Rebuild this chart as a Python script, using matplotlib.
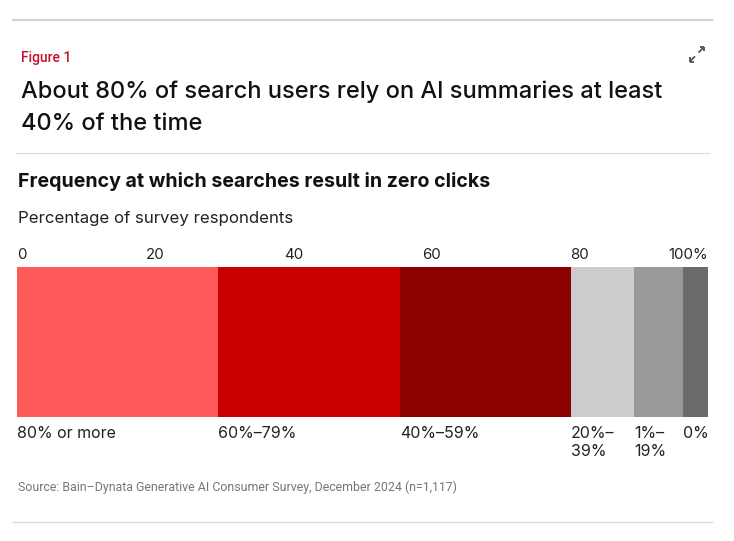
import matplotlib
matplotlib.use("Agg")
import matplotlib.pyplot as plt
from matplotlib.lines import Line2D
import matplotlib.transforms as mtransforms
import numpy as np

# ---- data ----
categories = ["80% or more", "60%–79%", "40%–59%", "20%–\n39%", "1%–\n19%", "0%"]
values = [29.1, 26.3, 24.7, 9.2, 7.0, 3.7]
colors = ["#FF5A5A", "#C80000", "#8C0000", "#CCCCCC", "#999999", "#6B6B6B"]
tick_values = [0, 20, 40, 60, 80, 100]
tick_labels = ["0", "20", "40", "60", "80", "100%"]

figure_label = "Figure 1"
title_lines = ["About 80% of search users rely on AI summaries at least",
               "40% of the time"]
subtitle = "Frequency at which searches result in zero clicks"
unit_label = "Percentage of survey respondents"
source = "Source: Bain–Dynata Generative AI Consumer Survey, December 2024 (n=1,117)"

FONT = "Inter"
plt.rcParams["font.family"] = [FONT, "DejaVu Sans"]
NARROW = ["Roboto", "DejaVu Sans"]

W, H = 734, 541
fig = plt.figure(figsize=(W / 100, H / 100), dpi=100)
fig.patch.set_facecolor("white")

def fx(px):
    return px / W

def fy(py):
    return 1 - py / H

# ---- axes = the bar ----
x0, x1 = 17, 708.3
y_top, y_bot = 266.5, 416.7
ax = fig.add_axes([fx(x0), fy(y_bot), fx(x1) - fx(x0), fy(y_top) - fy(y_bot)])
left = np.concatenate([[0], np.cumsum(values)[:-1]])
ax.barh([0], values, left=left, color=colors, height=1.0, edgecolor="none")
ax.set_xlim(0, 100)
ax.set_ylim(-0.5, 0.5)
for s in ax.spines.values():
    s.set_visible(False)
ax.set_yticks([])
ax.xaxis.tick_top()
ax.set_xticks(tick_values, tick_labels)
ax.tick_params(axis="x", length=0, pad=3.2, labelsize=10.8, labelcolor="#222222")
tl = ax.get_xticklabels()
tl[0].set_ha("left")
tl[4].set_ha("left")
tl[5].set_ha("right")

# category labels below each segment
offs = mtransforms.offset_copy(ax.transData, fig=fig, x=0, y=-9.4, units="dots")
for start, lab in zip(left, categories):
    ax.text(start, -0.5, lab, transform=offs, ha="left", va="top",
            fontsize=11.5, color="#222222", linespacing=1.2)

# ---- texts ----
fig.text(fx(21), fy(62.3), figure_label, fontsize=10, color="#C8102E",
         fontweight="medium", va="baseline", ha="left", family=NARROW)
fig.text(fx(21), fy(97.7), title_lines[0], fontsize=17.0, color="#111111",
         fontweight="medium", va="baseline", ha="left")
fig.text(fx(21), fy(130), title_lines[1], fontsize=17.0, color="#111111",
         fontweight="medium", va="baseline", ha="left")
fig.text(fx(17.5), fy(186.7), subtitle, fontsize=14.1, color="#111111",
         fontweight="bold", va="baseline", ha="left")
fig.text(fx(17.5), fy(223.3), unit_label, fontsize=12.1, color="#222222",
         va="baseline", ha="left")
fig.text(fx(18), fy(490.7), source, fontsize=8.9, color="#777777",
         va="baseline", ha="left", family=NARROW)

# ---- rules ----
fig.add_artist(Line2D([fx(13), fx(712)], [fy(20), fy(20)], color="#D2D2D2", lw=1.6))
fig.add_artist(Line2D([fx(16), fx(709)], [fy(153.3), fy(153.3)], color="#DDDDDD", lw=0.9))
fig.add_artist(Line2D([fx(13), fx(712)], [fy(522), fy(522)], color="#D8D8D8", lw=1.0))

# ---- expand icon ----
icon_color = "#555555"
def seg(p, q):
    fig.add_artist(Line2D([fx(p[0]), fx(q[0])], [fy(p[1]), fy(q[1])],
                          color=icon_color, lw=1.3, solid_capstyle="butt"))
# south-west arrow
seg((689.5, 61.8), (695.0, 56.3))
seg((689.5, 61.8), (689.5, 57.2))
seg((689.5, 61.8), (694.1, 61.8))
# north-east arrow
seg((698.5, 52.5), (704.2, 46.8))
seg((704.2, 46.8), (704.2, 51.4))
seg((704.2, 46.8), (699.6, 46.8))

fig.savefig("out.png", dpi=100, facecolor="white")
